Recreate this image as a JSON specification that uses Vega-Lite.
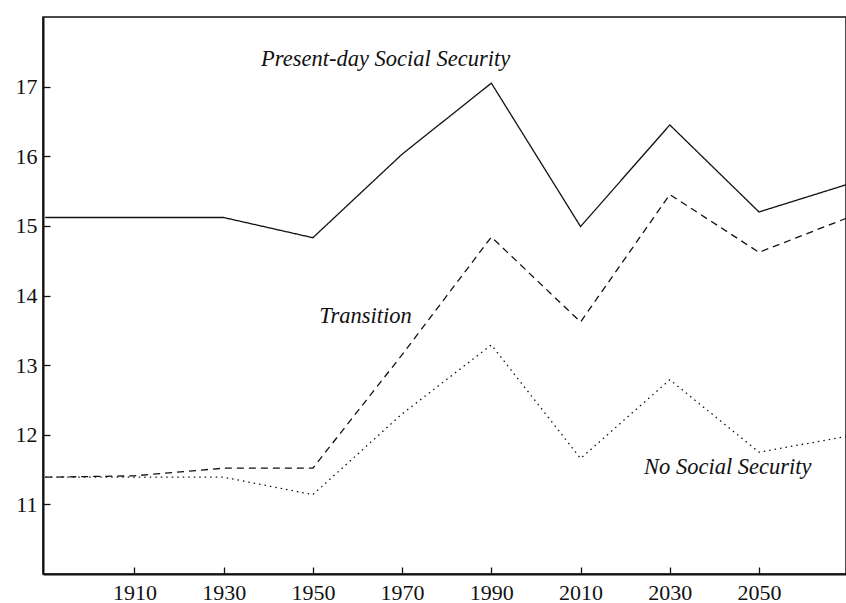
{
  "$schema": "https://vega.github.io/schema/vega-lite/v6.json",
  "width": 803,
  "height": 557,
  "autosize": "none",
  "padding": {"left": 43, "top": 17, "right": 0, "bottom": 29},
  "background": "white",
  "config": {
    "view": {"stroke": "#111", "strokeWidth": 1.5},
    "font": "Liberation Serif"
  },
  "datasets": {
    "series": [
      {"year": 1890, "value": 15.12, "series": "Present-day"},
      {"year": 1910, "value": 15.12, "series": "Present-day"},
      {"year": 1930, "value": 15.12, "series": "Present-day"},
      {"year": 1950, "value": 14.83, "series": "Present-day"},
      {"year": 1970, "value": 16.03, "series": "Present-day"},
      {"year": 1990, "value": 17.05, "series": "Present-day"},
      {"year": 2010, "value": 14.99, "series": "Present-day"},
      {"year": 2030, "value": 16.45, "series": "Present-day"},
      {"year": 2050, "value": 15.2, "series": "Present-day"},
      {"year": 2070, "value": 15.6, "series": "Present-day"},
      {"year": 1890, "value": 11.39, "series": "Transition"},
      {"year": 1910, "value": 11.41, "series": "Transition"},
      {"year": 1930, "value": 11.52, "series": "Transition"},
      {"year": 1950, "value": 11.52, "series": "Transition"},
      {"year": 1970, "value": 13.15, "series": "Transition"},
      {"year": 1990, "value": 14.84, "series": "Transition"},
      {"year": 2010, "value": 13.62, "series": "Transition"},
      {"year": 2030, "value": 15.45, "series": "Transition"},
      {"year": 2050, "value": 14.62, "series": "Transition"},
      {"year": 2070, "value": 15.12, "series": "Transition"},
      {"year": 1890, "value": 11.39, "series": "No SS"},
      {"year": 1910, "value": 11.39, "series": "No SS"},
      {"year": 1930, "value": 11.39, "series": "No SS"},
      {"year": 1950, "value": 11.14, "series": "No SS"},
      {"year": 1970, "value": 12.3, "series": "No SS"},
      {"year": 1990, "value": 13.29, "series": "No SS"},
      {"year": 2010, "value": 11.66, "series": "No SS"},
      {"year": 2030, "value": 12.79, "series": "No SS"},
      {"year": 2050, "value": 11.75, "series": "No SS"},
      {"year": 2070, "value": 11.98, "series": "No SS"}
    ],
    "labels": [
      {"year": 1966.3, "value": 17.39, "text": "Present-day Social Security"},
      {"year": 1961.8, "value": 13.7, "text": "Transition"},
      {"year": 2043, "value": 11.54, "text": "No Social Security"}
    ]
  },
  "layer": [
    {
      "data": {"name": "series"},
      "mark": {"type": "line", "color": "#111", "strokeWidth": 1.3, "clip": true},
      "encoding": {
        "x": {
          "field": "year", "type": "quantitative",
          "scale": {"domain": [1889.5, 2069.5], "nice": false, "zero": false},
          "axis": {
            "values": [1910, 1930, 1950, 1970, 1990, 2010, 2030, 2050],
            "format": "d", "title": null, "grid": false,
            "domainColor": "#111", "domainWidth": 2,
            "tickColor": "#111", "tickWidth": 1.3, "tickSize": -7,
            "labelFont": "Liberation Serif", "labelFontSize": 22, "labelColor": "#111",
            "labelPadding": 15
          }
        },
        "y": {
          "field": "value", "type": "quantitative",
          "scale": {"domain": [10, 18], "nice": false, "zero": false},
          "axis": {
            "values": [11, 12, 13, 14, 15, 16, 17],
            "format": "d", "title": null, "grid": false,
            "domainColor": "#111", "domainWidth": 2,
            "tickColor": "#111", "tickWidth": 1.3, "tickSize": -7,
            "labelFont": "Liberation Serif", "labelFontSize": 22, "labelColor": "#111",
            "labelPadding": 13
          }
        },
        "strokeDash": {
          "field": "series", "type": "nominal",
          "scale": {"domain": ["Present-day", "Transition", "No SS"], "range": [[1, 0], [7, 5], [1.5, 4]]},
          "legend": null
        }
      }
    },
    {
      "data": {"name": "labels"},
      "mark": {"type": "text", "font": "Liberation Serif", "fontStyle": "italic", "fontSize": 22.5, "color": "#111", "align": "center", "baseline": "middle"},
      "encoding": {
        "x": {"field": "year", "type": "quantitative"},
        "y": {"field": "value", "type": "quantitative"},
        "text": {"field": "text"}
      }
    }
  ]
}
